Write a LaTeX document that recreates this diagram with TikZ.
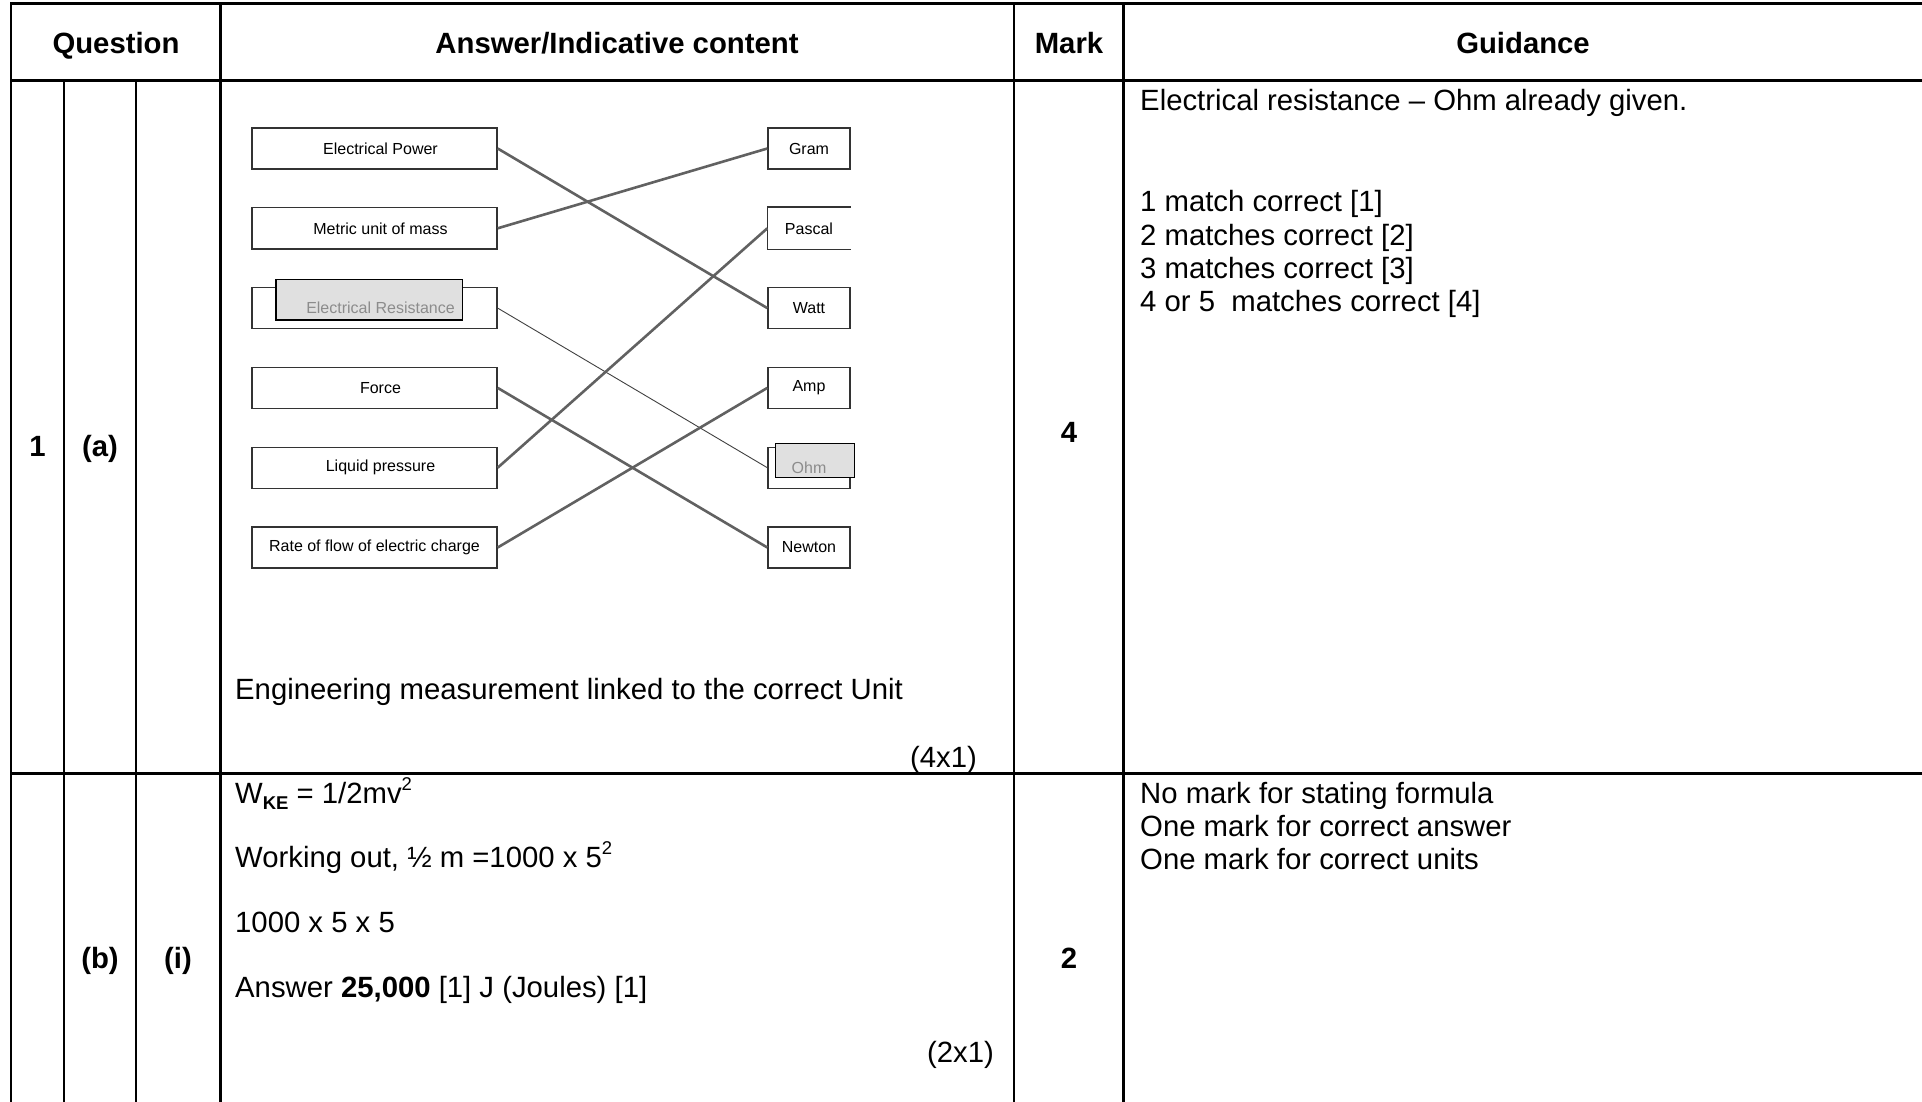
\documentclass[tikz,border=0pt]{standalone}
\usepackage{fontspec}
\setmainfont{Liberation Sans}
\newcommand\mysup[1]{\raisebox{0.42em}{\fontsize{18.5}{18.5}\selectfont #1}}
\newcommand\mysub[1]{\raisebox{-0.22em}{\fontsize{18.5}{18.5}\selectfont\bfseries #1}}
\begin{document}
\begin{tikzpicture}[x=1pt,y=-1pt,
  hline/.style={line width=3pt},
  vline/.style={line width=2.3pt},
  txt/.style={font=\fontsize{29.3}{33}\selectfont, inner sep=0pt, anchor=base west},
  rtxt/.style={font=\fontsize{29.3}{33}\selectfont, inner sep=0pt, anchor=base east},
  hd/.style={font=\fontsize{29.3}{33}\selectfont\bfseries, inner sep=0pt, anchor=base},
  lbox/.style={draw=black!80, line width=1.4pt, minimum width=245pt, minimum height=41pt, inner sep=0pt, font=\fontsize{16}{18}\selectfont},
  offtext/.style={execute at begin node={\hspace*{12pt}}},
  rbox/.style={draw=black!80, line width=1.4pt, minimum width=82pt, minimum height=41pt, inner sep=0pt, font=\fontsize{16}{18}\selectfont},
  boxedge/.style={draw=black!80, line width=1.4pt},
  link/.style={draw=black!62, line width=2.6pt},
  thinlink/.style={draw=black!75, line width=0.9pt},
  hilite/.style={draw=black, line width=1.8pt, fill=black!12},
  greytxt/.style={font=\fontsize{16}{18}\selectfont, text=black!45, inner sep=0pt}
]
\useasboundingbox (0,0) rectangle (1922,1102);

% ---- table rules ----
\draw[hline] (10,4) -- (1922,4);
\draw[hline] (10,81) -- (1922,81);
\draw[hline] (10,773) -- (1922,773);
\draw[vline] (11,4) -- (11,1102);
\draw[vline] (64,81) -- (64,1102);
\draw[vline] (136,81) -- (136,1102);
\draw[vline] (220.5,4) -- (220.5,1102);
\draw[vline] (1014,4) -- (1014,1102);
\draw[vline] (1123.5,4) -- (1123.5,1102);

% ---- header ----
\node[hd] (hq) at (116,54) {Question};
\node[hd] (ha) at (617,54) {Answer/Indicative content};
\node[hd] (hm) at (1069,54) {Mark};
\node[hd] (hg) at (1523,54) {Guidance};

% ---- row 1 ----
\node[hd] (q1) at (37.5,456) {1};
\node[hd] (qa) at (100,456) {(a)};
\node[hd] (m4) at (1069,442) {4};

\node[lbox, offtext] (ep) at (374.5,148.5) {Electrical Power};
\node[lbox, offtext] (mu) at (374.5,228.3) {Metric unit of mass};
\node[lbox] (er) at (374.5,308.1) {};
\node[lbox, offtext] (fo) at (374.5,387.9) {Force};
\node[lbox, offtext] (lp) at (374.5,467.7) {Liquid pressure};
\node[lbox] (rf) at (374.5,547.5) {Rate of flow of electric charge};

\node[rbox] (gram) at (809,148.5) {Gram};
\node[rbox, draw=none] (pascal) at (809,228.3) {Pascal};
\draw[boxedge] (pascal.north east) -- (pascal.north west) -- (pascal.south west) -- (pascal.south east);
\node[rbox] (watt) at (809,308.1) {Watt};
\node[rbox] (amp) at (809,387.9) {Amp};
\node[rbox] (ohm) at (809,467.7) {};
\node[rbox] (newton) at (809,547.5) {Newton};

\draw[hilite] (276,279.5) rectangle (462.5,320);
\node[greytxt, xshift=6pt] (ertxt) at (er) {Electrical Resistance};
\draw[hilite] (775.5,443.5) rectangle (854.5,477.5);
\node[greytxt] (ohmtxt) at (ohm) {Ohm};

\draw[link] (ep.east) -- (watt.west);
\draw[link] (mu.east) -- (gram.west);
\draw[thinlink] (er.east) -- (ohm.west);
\draw[link] (fo.east) -- (newton.west);
\draw[link] (lp.east) -- (pascal.west);
\draw[link] (rf.east) -- (amp.west);

\node[txt] (eng) at (235,699) {Engineering measurement linked to the correct Unit};
\node[rtxt] (m41) at (977,767) {(4x1)};

\node[txt] (g1) at (1140,111) {Electrical resistance – Ohm already given.};
\node[txt] (g2) at (1140,212) {1 match correct [1]};
\node[txt] (g3) at (1140,245) {2 matches correct [2]};
\node[txt] (g4) at (1140,278) {3 matches correct [3]};
\node[txt] (g5) at (1140,311) {4 or 5\ \ matches correct [4]};

% ---- row 2 ----
\node[hd] (qb) at (100,968) {(b)};
\node[hd] (qi) at (178,968) {(i)};
\node[hd] (m2) at (1069,968) {2};

\node[txt] (a1) at (235,803) {W\mysub{KE} = 1/2mv\mysup{2}};
\node[txt] (a2) at (235,867) {Working out, ½ m =1000 x 5\mysup{2}};
\node[txt] (a3) at (235,932) {1000 x 5 x 5};
\node[txt] (a4) at (235,997) {Answer \textbf{25,000} [1] J (Joules) [1]};
\node[rtxt] (a5) at (994,1062) {(2x1)};

\node[txt] (h1) at (1140,803) {No mark for stating formula};
\node[txt] (h2) at (1140,836) {One mark for correct answer};
\node[txt] (h3) at (1140,869) {One mark for correct units};
\end{tikzpicture}
\end{document}
